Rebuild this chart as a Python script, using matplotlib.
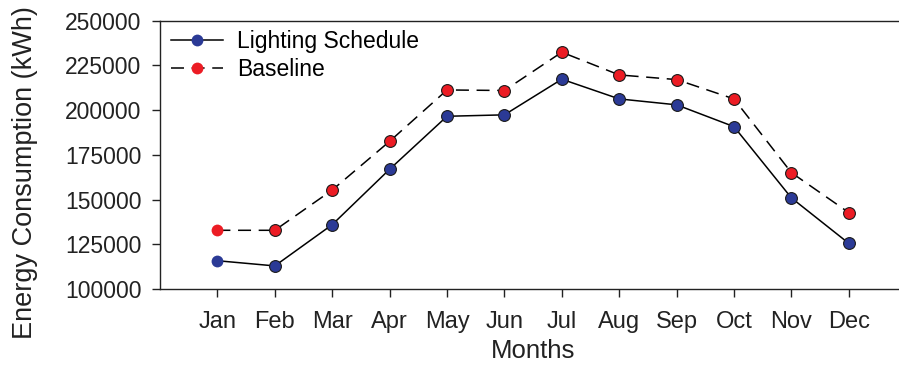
import matplotlib
matplotlib.use("Agg")
import matplotlib.pyplot as plt

plt.rcParams['font.family'] = ['Liberation Sans', 'DejaVu Sans']

months = ["Jan", "Feb", "Mar", "Apr", "May", "Jun",
          "Jul", "Aug", "Sep", "Oct", "Nov", "Dec"]
lighting_schedule = [115800, 112900, 135950, 166900, 196500, 197300,
                     217200, 206200, 202900, 190700, 150900, 125500]
baseline = [132800, 132800, 155300, 182500, 211200, 210900,
            232300, 219600, 217000, 206200, 165000, 142700]
y_ticks = [100000, 125000, 150000, 175000, 200000, 225000, 250000]

BLUE = "#2B3A96"
RED = "#EC1C24"
EDGE = "#1a1a1a"

fig = plt.figure(figsize=(8.99, 3.65), dpi=100)
ax = fig.add_axes([0.178, 0.2082, 0.830, 0.7356])

x = list(range(1, len(months) + 1))
series = [
    (lighting_schedule, BLUE, "-", "Lighting Schedule"),
    (baseline, RED, (0, (8.5, 5)), "Baseline"),
]
for values, color, ls, label in series:
    # first point is drawn without an outline, the rest with a dark rim
    ax.plot(x, values, color="black", lw=1.1, linestyle=ls, marker="o",
            markersize=8.5, markerfacecolor=color, markeredgecolor=EDGE,
            markeredgewidth=0.8, markevery=slice(1, None), label=label)
    ax.plot(x[:1], values[:1], linestyle="none", marker="o",
            markersize=8.5, markerfacecolor=color, markeredgecolor="none")

ax.set_xlim(0, 13)
ax.set_ylim(100000, 250000)
ax.set_xticks(x)
ax.set_xticklabels(months)
ax.set_yticks(y_ticks)
ax.set_yticklabels([str(v) for v in y_ticks])
ax.tick_params(axis="both", labelsize=16.5, direction="out", length=6,
               width=1, colors="#222222", labelcolor="#222222")
ax.tick_params(axis="x", labelsize=17, pad=10)
ax.tick_params(axis="y", pad=7.5)
for s in ax.spines.values():
    s.set_linewidth(1.0)
    s.set_color("#222222")
ax.spines["right"].set_visible(False)

ax.set_xlabel("Months", fontsize=18.5, color="#222222", labelpad=4)
ax.set_ylabel("Energy Consumption (kWh)", fontsize=19.5, color="#222222",
              va="center", ha="center", rotation_mode="default")
ax.yaxis.set_label_coords(-0.181, 0.432)

handles, labels = ax.get_legend_handles_labels()
leg = ax.legend(handles, labels, loc="upper left", frameon=False,
                fontsize=16.5, handlelength=2.3, handletextpad=0.6,
                labelspacing=0.25, borderaxespad=0.0, borderpad=0.3,
                bbox_to_anchor=(0.005, 0.992))
for h in leg.legend_handles:
    h.set_markeredgecolor("none")

fig.savefig("out.png", dpi=100)
